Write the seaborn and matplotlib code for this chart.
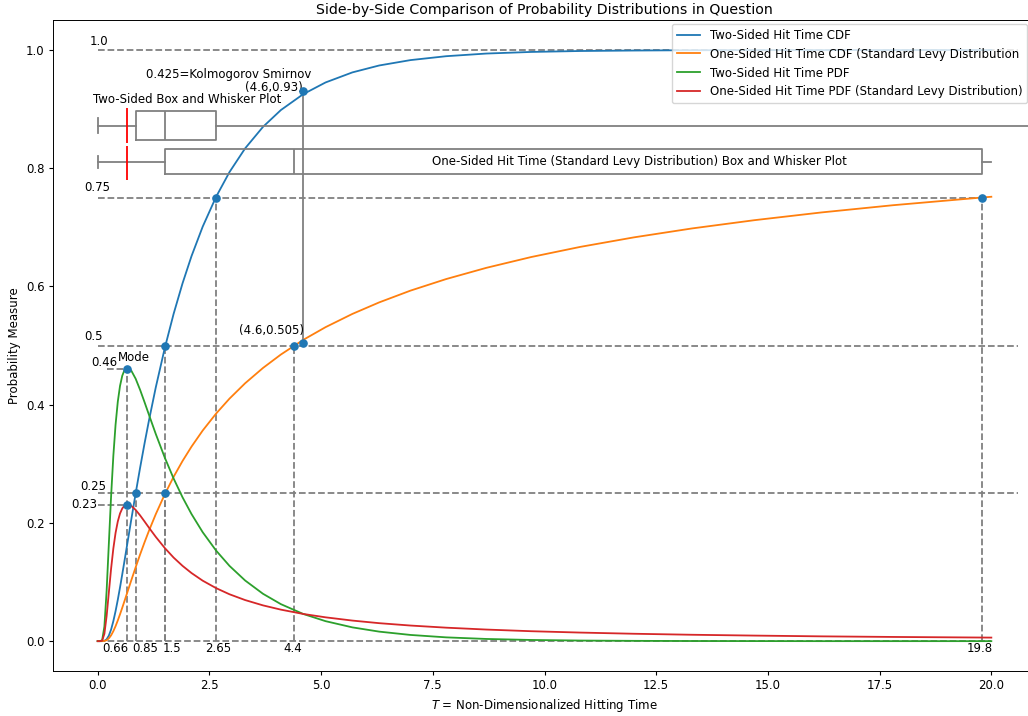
import numpy as np
import pandas as pd
import matplotlib
matplotlib.use('Agg')
import matplotlib.pyplot as plt
import seaborn as sns

t_values = [0, 0.05, 0.1, 0.15, 0.2, 0.25, 0.3, 0.35, 0.4, 0.45, 0.5, 0.55, 0.6, 0.66, 0.75, 0.85,
            0.95, 1.05, 1.15, 1.3, 1.5, 1.7, 1.9, 2.1, 2.35, 2.65, 2.95, 3.3, 3.7, 4.1, 4.6, 5.1,
            5.7, 6.3, 7.0, 7.8, 8.7, 9.7, 10.8, 12.0, 13.3, 14.7, 16.2, 17.8, 19.8, 20.0]
two_sided_cdf = [0.0, 0.0, 0.0, 0.0005, 0.0031, 0.0094, 0.0196, 0.0337, 0.0507, 0.07, 0.091, 0.1131,
                 0.1358, 0.1634, 0.2049, 0.2501, 0.2936, 0.335, 0.3743, 0.4293, 0.4954, 0.5539, 0.6056,
                 0.6514, 0.7012, 0.7517, 0.7936, 0.8337, 0.8701, 0.8985, 0.9254, 0.9452, 0.9622, 0.9739,
                 0.983, 0.9896, 0.9941, 0.9968, 0.9984, 0.9992, 0.9997, 0.9999, 0.9999, 1.0, 1.0, 1.0]
one_sided_cdf = [0.0, 0.0, 0.0, 0.0003, 0.0016, 0.0047, 0.0098, 0.0168, 0.0253, 0.035, 0.0455, 0.0565,
                 0.0679, 0.0817, 0.1025, 0.125, 0.1468, 0.1675, 0.1872, 0.2148, 0.2482, 0.2781, 0.3049,
                 0.3291, 0.3563, 0.385, 0.4103, 0.4363, 0.4622, 0.4849, 0.5097, 0.5312, 0.5536, 0.5731,
                 0.593, 0.6126, 0.6316, 0.6498, 0.667, 0.6831, 0.6982, 0.7122, 0.7253, 0.7375, 0.7506, 0.7518]
two_sided_pdf = [0.0, 0.0, 0.0016, 0.0247, 0.085, 0.1653, 0.245, 0.313, 0.3661, 0.4051, 0.4319, 0.449,
                 0.4586, 0.4625, 0.4579, 0.4439, 0.425, 0.404, 0.3824, 0.3505, 0.3108, 0.275, 0.2432,
                 0.215, 0.1843, 0.1532, 0.1273, 0.1026, 0.0801, 0.0626, 0.046, 0.0338, 0.0233, 0.0161,
                 0.0105, 0.0064, 0.0037, 0.002, 0.001, 0.0005, 0.0002, 0.0001, 0.0, 0.0, 0.0, 0.0]
one_sided_pdf = [0.0, 0.0, 0.0008, 0.0124, 0.0425, 0.0827, 0.1225, 0.1565, 0.1831, 0.2025, 0.216, 0.2245,
                 0.2293, 0.2313, 0.229, 0.222, 0.2127, 0.2023, 0.1917, 0.1764, 0.1577, 0.1413, 0.1273,
                 0.1152, 0.1023, 0.0897, 0.0793, 0.0695, 0.0605, 0.0533, 0.046, 0.0403, 0.0348, 0.0304,
                 0.0264, 0.0228, 0.0196, 0.0168, 0.0145, 0.0125, 0.0108, 0.0094, 0.0081, 0.0071, 0.0061, 0.006]

quantile_levels = [0.25, 0.5, 0.75]
two_sided_quartiles = [0.85, 1.5, 2.65]
one_sided_quartiles = [1.5, 4.4, 19.8]
quartile_labels = ['0.66', '0.85', '1.5', '2.65', '4.4', '19.8']
mode_t = 0.66
mode_values = [0.46, 0.23]
ks_t = 4.6
ks_values = [0.505, 0.93]

plt.rcParams.update({
    'font.size': 8.5, 'axes.titlesize': 10.2, 'axes.labelsize': 8.5,
    'xtick.labelsize': 8.5, 'ytick.labelsize': 8.5, 'legend.fontsize': 8.5,
    'lines.linewidth': 1.3, 'xtick.major.size': 3, 'ytick.major.size': 3,
    'xtick.major.pad': 3, 'ytick.major.pad': 3, 'axes.linewidth': 0.7,
    'axes.titlepad': 5, 'axes.labelpad': 3.4,
})

fig = plt.figure(figsize=(10.28, 7.16), dpi=100)
ax = fig.add_axes([0.05156, 0.06327, 0.95623, 0.90810])

gray = 'gray'
lw = 1.3
dash = dict(color=gray, linestyle='--', linewidth=lw)
# horizontal reference lines
ax.hlines(1.0, 0, 20.6, **dash)
ax.hlines(0.75, 0, 19.8, **dash)
ax.hlines(0.5, 0, 20.6, **dash)
ax.hlines(0.25, 0, 20.6, **dash)
ax.hlines(0.0, 0, 20.0, **dash)
ax.hlines(mode_values[0], 0.2, mode_t, **dash)
ax.hlines(mode_values[1], 0, mode_t, **dash)
# vertical reference lines
ax.vlines(mode_t, 0, mode_values[0], **dash)
for q, lvl in zip(two_sided_quartiles, quantile_levels):
    ax.vlines(q, 0, lvl, **dash)
for q, lvl in zip(one_sided_quartiles, quantile_levels):
    ax.vlines(q, 0, lvl, **dash)
ax.vlines(ks_t, ks_values[0], ks_values[1], color=gray, linewidth=lw)

sns.lineplot(x=t_values, y=two_sided_cdf, ax=ax, color='C0', label='Two-Sided Hit Time CDF')
sns.lineplot(x=t_values, y=one_sided_cdf, ax=ax, color='C1', label='One-Sided Hit Time CDF (Standard Levy Distribution')
sns.lineplot(x=t_values, y=two_sided_pdf, ax=ax, color='C2', label='Two-Sided Hit Time PDF')
sns.lineplot(x=t_values, y=one_sided_pdf, ax=ax, color='C3', label='One-Sided Hit Time PDF (Standard Levy Distribution)')

pts_x = two_sided_quartiles + one_sided_quartiles + [mode_t, mode_t, ks_t, ks_t]
pts_y = quantile_levels + quantile_levels + mode_values + ks_values
ax.scatter(pts_x, pts_y, s=27, color='C0', zorder=5)

# box plots
bprops = dict(color=gray, linewidth=lw)
ax.bxp([dict(whislo=0.0, q1=two_sided_quartiles[0], med=two_sided_quartiles[1],
             q3=two_sided_quartiles[2], whishi=25.0, fliers=[])],
       positions=[0.872], widths=0.05, orientation='horizontal', manage_ticks=False,
       boxprops=bprops, whiskerprops=bprops, capprops=bprops, medianprops=bprops)
b2 = ax.bxp([dict(whislo=0.0, q1=one_sided_quartiles[0], med=one_sided_quartiles[1],
                  q3=one_sided_quartiles[2], whishi=20.0, fliers=[])],
            positions=[0.811], widths=0.042, orientation='horizontal', manage_ticks=False,
            boxprops=bprops, whiskerprops=bprops, capprops=bprops, medianprops=bprops)
b2['caps'][1].set_visible(False)
ax.vlines(mode_t, 0.842, 0.902, color='red', linewidth=lw)
ax.vlines(mode_t, 0.78, 0.838, color='red', linewidth=lw)

def txt(x, y, s, ha='left'):
    ax.text(x, y, s, ha=ha, va='center')

txt(-0.18, 1.015, '1.0')
txt(-0.29, 0.768, '0.75')
txt(-0.29, 0.516, '0.5')
txt(-0.14, 0.472, '0.46')
txt(0.45, 0.48, 'Mode')
txt(-0.39, 0.261, '0.25')
txt(-0.59, 0.232, '0.23')
txt(-0.1, 0.917, 'Two-Sided Box and Whisker Plot')
txt(1.09, 0.958, '0.425=Kolmogorov Smirnov')
txt(3.3, 0.937, '(4.6,0.93)')
txt(3.16, 0.526, '(4.6,0.505)')
txt(7.48, 0.811, 'One-Sided Hit Time (Standard Levy Distribution) Box and Whisker Plot')
for xl, s in zip([0.105, 0.78, 1.45, 2.41, 4.165, 19.45], quartile_labels):
    txt(xl, -0.012, s)

ax.set_xlim(-1, 21)
ax.set_ylim(-0.05, 1.05)
ax.set_xticks([0, 2.5, 5, 7.5, 10, 12.5, 15, 17.5, 20])
ax.set_title('Side-by-Side Comparison of Probability Distributions in Question')
ax.set_xlabel('$T$ = Non-Dimensionalized Hitting Time')
ax.set_ylabel('Probability Measure')
ax.legend(loc='upper right', bbox_to_anchor=(1027 / 1028, 1 - 24 / 716), bbox_transform=fig.transFigure,
          borderaxespad=0)
fig.savefig('out.png', dpi=100)
